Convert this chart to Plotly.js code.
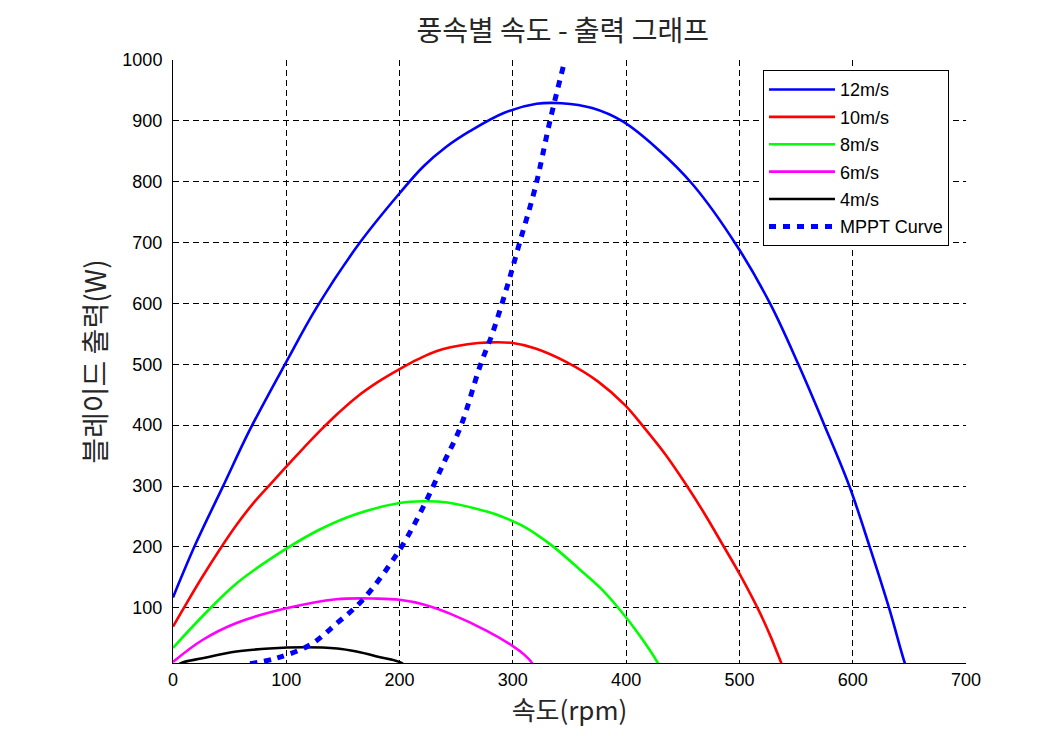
<!DOCTYPE html>
<html>
<head>
<meta charset="utf-8">
<script src="https://cdn.plot.ly/plotly-3.0.1.min.js"></script>
<style>
  body { margin: 0; background: #fff; }
  #chart { width: 1046px; height: 736px; }
</style>
</head>
<body>
<div id="chart"></div>
<script>
// values (rpm vs W)
var names = ['12m/s', '10m/s', '8m/s', '6m/s', '4m/s', 'MPPT Curve'];

var rpm12 = [0, 20, 44, 68, 100, 127, 165, 200, 221, 241, 262, 292, 321, 343, 370, 397, 427, 459, 498, 527, 552, 575, 597, 615, 632, 646, 648];
var pow12 = [117, 205, 299, 393, 504, 594, 700, 781, 825, 857, 883, 913, 928, 929, 921, 899, 855, 795, 694, 600, 500, 400, 300, 200, 100, 9, 0];

var rpm10 = [0, 10, 25, 41, 56, 71, 86, 100, 115, 131, 146, 162, 181, 200, 216, 233, 260, 280, 300, 320, 347, 375, 399, 415, 435, 453, 470, 486, 500, 518, 527, 537, 539];
var pow10 = [69, 101, 148, 195, 236, 272, 303, 332, 362, 393, 420, 446, 471, 492, 508, 522, 533, 536, 535, 526, 504, 472, 433, 398, 351, 302, 252, 201, 156, 92, 55, 9, 0];

var rpm8 = [0, 26, 56, 100, 130, 162, 200, 221, 242, 277, 290, 307, 322, 336, 359, 377, 393, 411, 428, 430];
var pow8 = [34, 86, 140, 197, 229, 254, 272, 275, 273, 258, 250, 236, 219, 200, 163, 133, 100, 57, 9, 0];

var rpm6 = [0, 26, 56, 100, 144, 180, 200, 222, 245, 277, 300, 310, 317, 319];
var pow6 = [11, 47, 75, 99, 114, 115, 113, 105, 90, 62, 37, 23, 9, 0];

var rpm4 = [0, 7, 26, 56, 85, 115, 145, 162, 180, 202, 205];
var pow4 = [0, 9, 17, 28, 33, 35, 33, 28, 20, 9, 0];

var rpmMppt = [68, 91, 121, 145, 168, 200, 221, 239, 254, 271, 282, 295, 306, 320, 333, 345];
var powMppt = [8, 17, 39, 75, 114, 195, 266, 338, 398, 497, 551, 628, 700, 792, 902, 993];

var colors = ['#0000ff', '#ff0000', '#00ff00', '#ff00ff', '#000000', '#0000ff'];

var xs = [rpm12, rpm10, rpm8, rpm6, rpm4, rpmMppt];
var ys = [pow12, pow10, pow8, pow6, pow4, powMppt];

var data = xs.map(function (x, i) {
    var isMppt = (i === 5);
    return {
        x: x,
        y: ys[i],
        name: names[i],
        legendgroup: 'g' + i,
        mode: 'lines',
        type: 'scatter',
        line: {
            color: colors[i],
            width: isMppt ? 5 : 2.6,
            dash: isMppt ? '7px,7px' : 'solid',
            shape: 'spline',
            smoothing: 1
        },
        hoverinfo: 'x+y+name'
    };
});

var cjk = '"Noto Sans CJK KR", "Noto Sans", sans-serif';
var latin = '"Liberation Sans", Arial, sans-serif';

var layout = {
    width: 1046,
    height: 736,
    paper_bgcolor: '#ffffff',
    plot_bgcolor: '#ffffff',
    margin: { l: 173, r: 80, t: 60, b: 73 },
    title: {
        text: '풍속별 속도 - 출력 그래프',
        font: { family: cjk, size: 28, color: '#262626' },
        x: 0.538, xref: 'container', xanchor: 'center',
        y: 0.957, yref: 'container', yanchor: 'middle'
    },
    xaxis: {
        range: [0, 700],
        tick0: 0,
        dtick: 100,
        showgrid: true,
        gridcolor: '#000000',
        gridwidth: 1,
        griddash: '6px,4px',
        zeroline: false,
        showline: true,
        linecolor: '#000000',
        linewidth: 1,
        ticks: '',
        tickfont: { family: latin, size: 18, color: '#000000' },
        title: {
            text: '속도(rpm)',
            font: { family: cjk, size: 26, color: '#262626' },
            standoff: 6
        }
    },
    yaxis: {
        range: [9.2, 1000],
        tick0: 0,
        dtick: 100,
        showgrid: true,
        gridcolor: '#000000',
        gridwidth: 1,
        griddash: '6px,4px',
        zeroline: false,
        showline: true,
        linecolor: '#000000',
        linewidth: 1,
        ticks: '',
        ticklabelstandoff: 6,
        tickfont: { family: latin, size: 18, color: '#000000' },
        title: {
            text: '블레이드 출력(W)',
            font: { family: cjk, size: 28, color: '#262626' },
            standoff: 7
        }
    },
    showlegend: true,
    legend: {
        x: 0.744, xanchor: 'left',
        y: 0.983, yanchor: 'top',
        bgcolor: '#ffffff',
        bordercolor: '#000000',
        borderwidth: 1,
        font: { family: latin, size: 18, color: '#000000' },
        itemwidth: 66,
        tracegroupgap: 1,
        traceorder: 'grouped'
    }
};

Plotly.newPlot('chart', data, layout, { staticPlot: true });
</script>
</body>
</html>
